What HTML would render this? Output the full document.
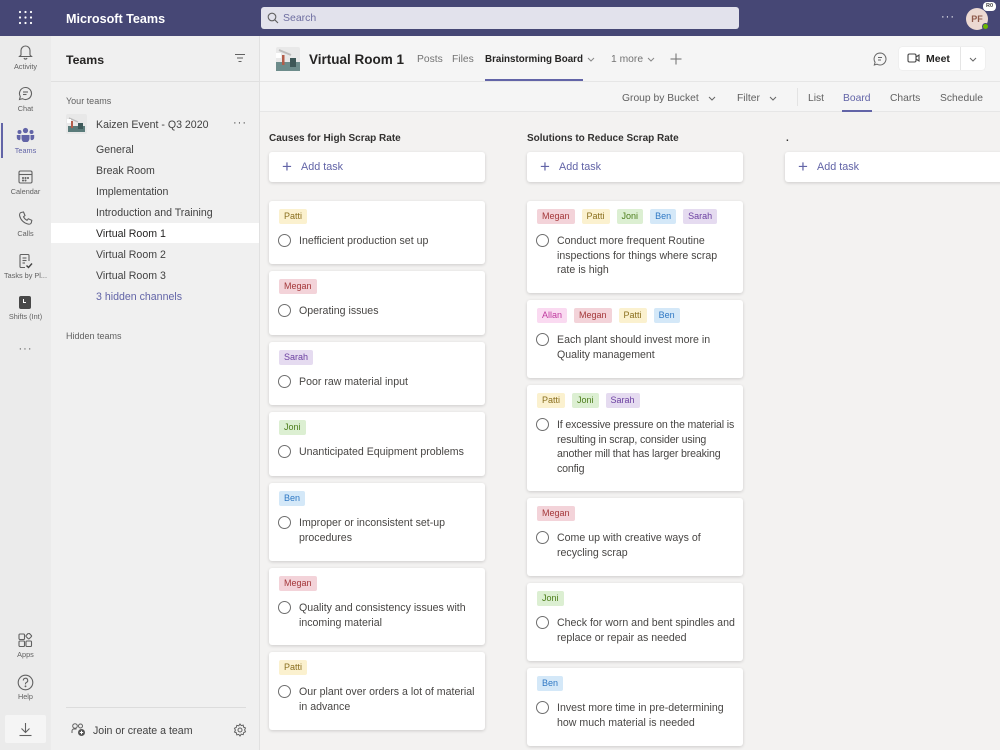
<!DOCTYPE html>
<html><head><meta charset="utf-8">
<style>
*{margin:0;padding:0;box-sizing:border-box}
body{width:1000px;height:750px;overflow:hidden;position:relative;background:#f3f2f1;font-family:"Liberation Sans",Arial,sans-serif;color:#252423}
.abs{position:absolute}
.top{left:0;top:0;width:1000px;height:36px;background:#464775}
.rail{left:0;top:36px;width:51px;height:714px;background:#ebebeb}
.panel{left:51px;top:36px;width:209px;height:714px;background:#f0f0f0;border-right:1px solid #e1e1e1}
.main{left:260px;top:36px;width:740px;height:75px;background:#f5f5f5}
.rl{position:absolute;width:51px;text-align:center;font-size:7.3px;color:#616161;white-space:nowrap}
.ch{position:absolute;left:96px;font-size:10.6px;color:#424242;white-space:nowrap;line-height:14px}
.card{position:absolute;width:216px;background:#fff;border-radius:3px;box-shadow:0 1px 3px rgba(0,0,0,.16)}
.tags{position:absolute;left:10px;top:8px;display:flex;gap:7px}
.tag{height:15px;line-height:15px;font-size:9px;padding:0 5px;border-radius:2px;white-space:nowrap}
.Patti{background:#fbf1cf;color:#8a6f1e}
.Megan{background:#f3d3d9;color:#a4373a}
.Sarah{background:#e5dbf0;color:#6b3fa0}
.Joni{background:#dcefd2;color:#4c7d1a}
.Ben{background:#d4e8f8;color:#2f78c4}
.Allan{background:#fadaf1;color:#c0399f}
.circ{position:absolute;left:9px;top:33px;width:13px;height:13px;border:1.3px solid #6e6e6e;border-radius:50%}
.txt{position:absolute;left:30px;top:33px;font-size:10.6px;line-height:14.5px;color:#484644;white-space:nowrap}
.colh{position:absolute;top:133px;font-size:10px;font-weight:bold;color:#323130;white-space:nowrap}
.add{position:absolute;top:152px;width:216px;height:30px;background:#fff;border-radius:3px;box-shadow:0 1px 3px rgba(0,0,0,.16)}
.add span.p{position:absolute;left:13px;top:6px;font-size:17px;color:#6264a7;font-weight:300;line-height:18px}
.add span.t{position:absolute;left:32px;top:9px;font-size:10.8px;color:#6264a7}
.tb{position:absolute;top:93px;font-size:10.3px;color:#616161;white-space:nowrap}
</style></head><body>

<!-- top bar -->
<div class="abs top"></div>
<svg class="abs" style="left:18px;top:10px" width="15" height="15" viewBox="0 0 15 15" fill="#fff">
<circle cx="2" cy="2" r="1.1"/><circle cx="7.5" cy="2" r="1.1"/><circle cx="13" cy="2" r="1.1"/>
<circle cx="2" cy="7.5" r="1.1"/><circle cx="7.5" cy="7.5" r="1.1"/><circle cx="13" cy="7.5" r="1.1"/>
<circle cx="2" cy="13" r="1.1"/><circle cx="7.5" cy="13" r="1.1"/><circle cx="13" cy="13" r="1.1"/></svg>
<div class="abs" style="left:66px;top:12px;font-size:12.6px;font-weight:bold;color:#fff;white-space:nowrap">Microsoft Teams</div>
<div class="abs" style="left:261px;top:7px;width:478px;height:22px;background:#e2e2ec;border-radius:3px"></div>
<svg class="abs" style="left:267px;top:12px" width="12" height="12" viewBox="0 0 12 12" fill="none" stroke="#616161" stroke-width="1.1"><circle cx="5" cy="5" r="3.8"/><line x1="7.8" y1="7.8" x2="11" y2="11"/></svg>
<div class="abs" style="left:283px;top:12px;font-size:10.5px;color:#6e6ea0">Search</div>
<div class="abs" style="left:941px;top:11px;font-size:11px;color:#fff;letter-spacing:1px">···</div>
<div class="abs" style="left:966px;top:8px;width:22px;height:22px;border-radius:50%;background:#ecd9d2;color:#8e5a4b;font-size:9px;font-weight:bold;text-align:center;line-height:22px">PF</div>
<div class="abs" style="left:983px;top:2px;width:13px;height:9px;border-radius:4px;background:#fff;font-size:5.5px;color:#444;text-align:center;line-height:9px;font-weight:bold">R0</div>
<div class="abs" style="left:982px;top:23px;width:7px;height:7px;border-radius:50%;background:#6bb700;border:1px solid #464775"></div>

<!-- left rail -->
<div class="abs rail"></div>
<div class="abs" style="left:1px;top:123px;width:2px;height:35px;background:#6264a7"></div>
<svg class="abs" style="left:18px;top:44px" width="15" height="16" viewBox="0 0 15 16" fill="none" stroke="#616161" stroke-width="1.1"><path d="M3 11V6.5a4.5 4.5 0 0 1 9 0V11l1.5 1.5h-12z"/><path d="M6 14a1.6 1.6 0 0 0 3 0"/></svg>
<div class="rl" style="top:62px">Activity</div>
<svg class="abs" style="left:18px;top:86px" width="15" height="15" viewBox="0 0 15 15" fill="none" stroke="#616161" stroke-width="1.1"><path d="M7.5 1.5a6 6 0 1 1-3 11.2L1.5 13.5l.8-3A6 6 0 0 1 7.5 1.5z"/><line x1="5" y1="6" x2="10" y2="6"/><line x1="5" y1="8.5" x2="8.5" y2="8.5"/></svg>
<div class="rl" style="top:104px">Chat</div>
<svg class="abs" style="left:16px;top:127px" width="19" height="15" viewBox="0 0 19 15" fill="#6264a7"><circle cx="9.5" cy="3.5" r="2.6"/><circle cx="3.5" cy="5" r="2"/><circle cx="15.5" cy="5" r="2"/><path d="M5.5 8h8v3.5a4 4 0 0 1-8 0z"/><path d="M0.8 8h3.7v3.5a3 3 0 0 1-.5 1.5A2.5 2.5 0 0 1 .8 10.5z"/><path d="M18.2 8h-3.7v3.5a3 3 0 0 0 .5 1.5 2.5 2.5 0 0 0 3.2-2.5z"/></svg>
<div class="rl" style="top:146px;color:#6264a7">Teams</div>
<svg class="abs" style="left:18px;top:170px" width="15" height="14" viewBox="0 0 15 14" fill="none" stroke="#616161" stroke-width="1.1"><rect x="1" y="1" width="13" height="12" rx="1.5"/><line x1="1" y1="4.5" x2="14" y2="4.5"/><circle cx="5" cy="8" r=".5"/><circle cx="7.5" cy="8" r=".5"/><circle cx="10" cy="8" r=".5"/><circle cx="5" cy="10.5" r=".5"/><circle cx="7.5" cy="10.5" r=".5"/></svg>
<div class="rl" style="top:187px">Calendar</div>
<svg class="abs" style="left:18px;top:211px" width="15" height="15" viewBox="0 0 15 15" fill="none" stroke="#616161" stroke-width="1.1"><path d="M3 1.5l2.5-.5 1.5 3.5-1.5 1.3a7 7 0 0 0 3.5 3.5l1.3-1.5 3.5 1.5-.5 2.5c-.5 1.2-2 1.7-3.5 1.2A11 11 0 0 1 1.7 5C1.3 3.5 1.8 2 3 1.5z"/></svg>
<div class="rl" style="top:229px">Calls</div>
<svg class="abs" style="left:18px;top:253px" width="15" height="16" viewBox="0 0 15 16" fill="none" stroke="#616161" stroke-width="1.1"><path d="M11 8V2.5a1 1 0 0 0-1-1H3a1 1 0 0 0-1 1v11a1 1 0 0 0 1 1h4"/><line x1="4.5" y1="5" x2="8.5" y2="5"/><line x1="4.5" y1="7.5" x2="8.5" y2="7.5"/><line x1="4.5" y1="10" x2="7" y2="10"/><path d="M8.5 12.5l2 2 3.5-4" stroke="#444" stroke-width="1.4"/></svg>
<div class="rl" style="top:271px">Tasks by Pl...</div>
<div class="abs" style="left:19px;top:296px;width:12px;height:13px;background:#484848;border-radius:2px"></div>
<div class="abs" style="left:23px;top:299px;width:3px;height:4px;border-left:1px solid #fff;border-bottom:1px solid #fff"></div>
<div class="rl" style="top:312px">Shifts (Int)</div>
<div class="rl" style="top:343px;font-size:11px;letter-spacing:1px;color:#555">···</div>
<svg class="abs" style="left:18px;top:633px" width="15" height="15" viewBox="0 0 15 15" fill="none" stroke="#616161" stroke-width="1.1"><rect x="1" y="1" width="5.5" height="5.5" rx="1"/><rect x="1" y="8" width="5.5" height="5.5" rx="1"/><rect x="8" y="8" width="5.5" height="5.5" rx="1"/><rect x="8.5" y="0.8" width="4.5" height="4.5" rx="1" transform="rotate(45 10.75 3.05)"/></svg>
<div class="rl" style="top:650px">Apps</div>
<svg class="abs" style="left:17px;top:674px" width="17" height="17" viewBox="0 0 17 17" fill="none" stroke="#616161" stroke-width="1.1"><circle cx="8.5" cy="8.5" r="7.3"/><path d="M6.3 6.5a2.2 2.2 0 1 1 3 2c-.6.3-.8.7-.8 1.3v.6"/><circle cx="8.5" cy="12.3" r=".4" fill="#616161"/></svg>
<div class="rl" style="top:692px">Help</div>
<div class="abs" style="left:5px;top:715px;width:41px;height:28px;background:#f5f5f5;border-radius:2px"></div>
<svg class="abs" style="left:18px;top:722px" width="15" height="15" viewBox="0 0 15 15" fill="none" stroke="#616161" stroke-width="1.1"><line x1="7.5" y1="1" x2="7.5" y2="10"/><path d="M3.5 6.5l4 4 4-4"/><line x1="1.5" y1="13.5" x2="13.5" y2="13.5"/></svg>

<!-- teams panel -->
<div class="abs panel"></div>
<div class="abs" style="left:66px;top:53px;font-size:12.3px;font-weight:bold;color:#252423">Teams</div>
<svg class="abs" style="left:234px;top:53px" width="12" height="10" viewBox="0 0 12 10" stroke="#616161" stroke-width="1"><line x1="1" y1="1.5" x2="11" y2="1.5"/><line x1="3" y1="5" x2="9" y2="5"/><line x1="4.5" y1="8.5" x2="7.5" y2="8.5"/></svg>
<div class="abs" style="left:51px;top:81px;width:209px;height:1px;background:#e0e0e0"></div>
<div class="abs" style="left:66px;top:96px;font-size:9px;color:#616161">Your teams</div>
<svg class="abs" style="left:66px;top:114px" width="21" height="20" viewBox="0 0 21 20"><rect width="21" height="20" rx="2" fill="#e8e8e8"/><rect x="2" y="12" width="17" height="6" fill="#5a7b7a"/><rect x="5" y="7" width="2" height="7" fill="#b35d4a"/><rect x="12" y="9" width="5" height="6" fill="#3e5a5a"/><path d="M3 4l9 4" stroke="#bbb" stroke-width="1.5"/><rect x="1" y="5" width="4" height="4" fill="#fff"/></svg>
<div class="ch" style="top:118px;color:#424242">Kaizen Event - Q3 2020</div>
<div class="abs" style="left:233px;top:117px;font-size:11px;color:#424242;letter-spacing:1px">···</div>
<div class="ch" style="top:143px">General</div>
<div class="ch" style="top:164px">Break Room</div>
<div class="ch" style="top:185px">Implementation</div>
<div class="ch" style="top:206px">Introduction and Training</div>
<div class="abs" style="left:51px;top:223px;width:208px;height:20px;background:#fff"></div>
<div class="ch" style="top:227px;color:#252423">Virtual Room 1</div>
<div class="ch" style="top:248px">Virtual Room 2</div>
<div class="ch" style="top:269px">Virtual Room 3</div>
<div class="ch" style="top:290px;color:#6264a7">3 hidden channels</div>
<div class="abs" style="left:66px;top:331px;font-size:9px;color:#616161">Hidden teams</div>
<div class="abs" style="left:66px;top:707px;width:180px;height:1px;background:#dcdcdc"></div>
<svg class="abs" style="left:71px;top:722px" width="15" height="15" viewBox="0 0 15 15" fill="none" stroke="#616161" stroke-width="1"><circle cx="4" cy="4" r="2.3"/><circle cx="9.5" cy="4" r="2"/><path d="M1 11V9a2 2 0 0 1 2-2h2.5"/><circle cx="10.5" cy="10.5" r="3.5" fill="#555" stroke="none"/><path d="M10.5 8.8v3.4M8.8 10.5h3.4" stroke="#fff"/></svg>
<div class="abs" style="left:93px;top:725px;font-size:10.6px;color:#424242;white-space:nowrap">Join or create a team</div>
<svg class="abs" style="left:233px;top:723px" width="14" height="14" viewBox="0 0 14 14" fill="none" stroke="#616161" stroke-width="1"><circle cx="7" cy="7" r="2"/><path d="M7 1l1.2 1.6 2-.5.4 2 1.9.9-.9 1.9.9 1.9-1.9.9-.4 2-2-.5L7 13l-1.2-1.6-2 .5-.4-2-1.9-.9.9-1.9-.9-1.9 1.9-.9.4-2 2 .5z"/></svg>

<!-- main header -->
<div class="abs main"></div>
<div class="abs" style="left:260px;top:81px;width:740px;height:1px;background:#e6e6e6"></div>
<div class="abs" style="left:260px;top:111px;width:740px;height:1px;background:#e6e6e6"></div>
<svg class="abs" style="left:276px;top:47px" width="24" height="24" viewBox="0 0 24 24"><rect width="24" height="24" rx="2" fill="#e9e9e9"/><rect x="0" y="15" width="24" height="9" fill="#6d8c8b"/><rect x="6" y="8" width="2.5" height="10" fill="#b35d4a"/><rect x="14" y="11" width="6" height="9" fill="#3e5858"/><path d="M3 3l12 5" stroke="#bdbdbd" stroke-width="2"/><rect x="0" y="6" width="5" height="5" fill="#fff"/></svg>
<div class="abs" style="left:309px;top:52px;font-size:13.5px;font-weight:bold;color:#252423;white-space:nowrap">Virtual Room 1</div>
<div class="abs" style="left:417px;top:54px;font-size:10.3px;color:#737373">Posts</div>
<div class="abs" style="left:452px;top:54px;font-size:10.3px;color:#737373">Files</div>
<div class="abs" style="left:485px;top:54px;font-size:9.8px;font-weight:bold;color:#252423;white-space:nowrap">Brainstorming Board</div>
<svg class="abs" style="left:587px;top:57px" width="8" height="5" viewBox="0 0 8 5" fill="none" stroke="#888" stroke-width="1"><path d="M1 1l3 3 3-3"/></svg>
<div class="abs" style="left:485px;top:79px;width:98px;height:2px;background:#6264a7"></div>
<div class="abs" style="left:611px;top:54px;font-size:10.3px;color:#737373;white-space:nowrap">1 more</div>
<svg class="abs" style="left:647px;top:57px" width="8" height="5" viewBox="0 0 8 5" fill="none" stroke="#888" stroke-width="1"><path d="M1 1l3 3 3-3"/></svg>
<svg class="abs" style="left:670px;top:53px" width="12" height="12" viewBox="0 0 12 12" stroke="#777" stroke-width="1.1"><line x1="6" y1="0.5" x2="6" y2="11.5"/><line x1="0.5" y1="6" x2="11.5" y2="6"/></svg>
<svg class="abs" style="left:873px;top:52px" width="14" height="14" viewBox="0 0 14 14" fill="none" stroke="#666" stroke-width="1"><path d="M7 1a6 6 0 1 1-3 11.2L1.3 13l.8-2.7A6 6 0 0 1 7 1z"/><line x1="5" y1="5.5" x2="9" y2="5.5"/><line x1="5" y1="8" x2="8" y2="8"/></svg>
<div class="abs" style="left:899px;top:47px;width:86px;height:23px;background:#fff;border-radius:3px;box-shadow:0 0 1px rgba(0,0,0,.15)"></div>
<div class="abs" style="left:960px;top:47px;width:1px;height:23px;background:#e5e5e5"></div>
<svg class="abs" style="left:907px;top:52px" width="13" height="12" viewBox="0 0 13 12" fill="none" stroke="#444" stroke-width="1.1"><rect x="1" y="2" width="8" height="8" rx="1.5"/><path d="M9 5l3-2v6l-3-2"/></svg>
<div class="abs" style="left:926px;top:53px;font-size:10.5px;font-weight:bold;color:#252423">Meet</div>
<svg class="abs" style="left:969px;top:57px" width="8" height="5" viewBox="0 0 8 5" fill="none" stroke="#666" stroke-width="1"><path d="M1 1l3 3 3-3"/></svg>

<!-- toolbar -->
<div class="tb" style="left:622px">Group by Bucket</div>
<svg class="abs" style="left:708px;top:96px" width="8" height="5" viewBox="0 0 8 5" fill="none" stroke="#666" stroke-width="1"><path d="M1 1l3 3 3-3"/></svg>
<div class="tb" style="left:737px">Filter</div>
<svg class="abs" style="left:769px;top:96px" width="8" height="5" viewBox="0 0 8 5" fill="none" stroke="#666" stroke-width="1"><path d="M1 1l3 3 3-3"/></svg>
<div class="abs" style="left:797px;top:88px;width:1px;height:18px;background:#e3e3e3"></div>
<div class="tb" style="left:808px">List</div>
<div class="tb" style="left:843px;color:#6264a7">Board</div>
<div class="abs" style="left:842px;top:110px;width:30px;height:2px;background:#6264a7"></div>
<div class="tb" style="left:890px">Charts</div>
<div class="tb" style="left:940px">Schedule</div>

<!-- column headers -->
<div class="colh" style="left:269px">Causes for High Scrap Rate</div>
<div class="colh" style="left:527px">Solutions to Reduce Scrap Rate</div>
<div class="colh" style="left:786px">.</div>

<div class="add" style="left:269px"><span class="p">+</span><span class="t">Add task</span></div>
<div class="add" style="left:527px"><span class="p">+</span><span class="t">Add task</span></div>
<div class="add" style="left:785px;width:240px"><span class="p">+</span><span class="t">Add task</span></div>

<!-- column 1 -->
<div class="card" style="left:269px;top:201px;height:63px"><div class="tags"><span class="tag Patti">Patti</span></div><div class="circ"></div><div class="txt">Inefficient production set up</div></div>
<div class="card" style="left:269px;top:271px;height:64px"><div class="tags"><span class="tag Megan">Megan</span></div><div class="circ"></div><div class="txt">Operating issues</div></div>
<div class="card" style="left:269px;top:342px;height:63px"><div class="tags"><span class="tag Sarah">Sarah</span></div><div class="circ"></div><div class="txt">Poor raw material input</div></div>
<div class="card" style="left:269px;top:412px;height:64px"><div class="tags"><span class="tag Joni">Joni</span></div><div class="circ"></div><div class="txt">Unanticipated Equipment problems</div></div>
<div class="card" style="left:269px;top:483px;height:78px"><div class="tags"><span class="tag Ben">Ben</span></div><div class="circ"></div><div class="txt">Improper or inconsistent set-up<br>procedures</div></div>
<div class="card" style="left:269px;top:568px;height:77px"><div class="tags"><span class="tag Megan">Megan</span></div><div class="circ"></div><div class="txt">Quality and consistency issues with<br>incoming material</div></div>
<div class="card" style="left:269px;top:652px;height:78px"><div class="tags"><span class="tag Patti">Patti</span></div><div class="circ"></div><div class="txt">Our plant over orders a lot of material<br>in advance</div></div>

<!-- column 2 -->
<div class="card" style="left:527px;top:201px;height:92px"><div class="tags"><span class="tag Megan">Megan</span><span class="tag Patti">Patti</span><span class="tag Joni">Joni</span><span class="tag Ben">Ben</span><span class="tag Sarah">Sarah</span></div><div class="circ"></div><div class="txt">Conduct more frequent Routine<br>inspections for things where scrap<br>rate is high</div></div>
<div class="card" style="left:527px;top:300px;height:78px"><div class="tags"><span class="tag Allan">Allan</span><span class="tag Megan">Megan</span><span class="tag Patti">Patti</span><span class="tag Ben">Ben</span></div><div class="circ"></div><div class="txt">Each plant should invest more in<br>Quality management</div></div>
<div class="card" style="left:527px;top:385px;height:106px"><div class="tags"><span class="tag Patti">Patti</span><span class="tag Joni">Joni</span><span class="tag Sarah">Sarah</span></div><div class="circ"></div><div class="txt" style="letter-spacing:-0.15px">If excessive pressure on the material is<br>resulting in scrap, consider using<br>another mill that has larger breaking<br>config</div></div>
<div class="card" style="left:527px;top:498px;height:78px"><div class="tags"><span class="tag Megan">Megan</span></div><div class="circ"></div><div class="txt">Come up with creative ways of<br>recycling scrap</div></div>
<div class="card" style="left:527px;top:583px;height:78px"><div class="tags"><span class="tag Joni">Joni</span></div><div class="circ"></div><div class="txt">Check for worn and bent spindles and<br>replace or repair as needed</div></div>
<div class="card" style="left:527px;top:668px;height:78px"><div class="tags"><span class="tag Ben">Ben</span></div><div class="circ"></div><div class="txt">Invest more time in pre-determining<br>how much material is needed</div></div>

</body></html>
